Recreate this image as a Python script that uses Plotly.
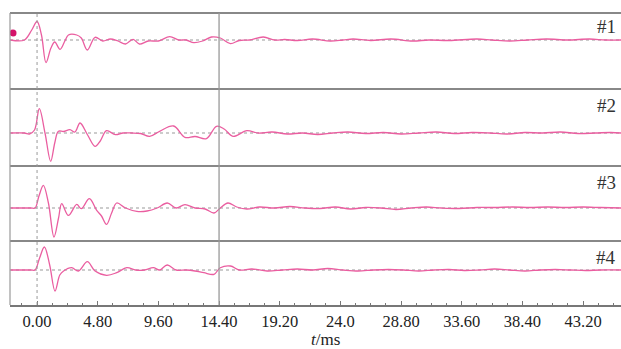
import plotly.graph_objects as go

# ---------------- data ----------------
tick_vals = [0.0, 4.8, 9.6, 14.4, 19.2, 24.0, 28.8, 33.6, 38.4, 43.2]
tick_text = ["0.00", "4.80", "9.60", "14.40", "19.20", "24.0", "28.80", "33.60", "38.40", "43.20"]

t1 = [-2.1, -1.0, -0.42, 0.0, 0.35, 0.71, 1.1, 1.4, 1.82, 2.2, 2.48, 3.14, 3.5, 3.98, 4.59,
      5.2, 5.8, 6.4, 7.0, 7.6, 8.1, 8.8, 9.6, 10.5, 11.2, 11.8, 12.4, 13.1, 13.8, 14.5, 15.3,
      16.0, 16.8, 17.9, 18.8, 19.6, 20.6, 21.8, 23.2, 24.2, 25.0, 26.4, 28.0, 29.7, 31.0,
      32.6, 34.8, 36.0, 37.4, 38.8, 40.3, 42.0, 43.7, 45.0, 46.2]
a1 = [0, 0, 10, 18.5, 5, -22.7, -8, -2, -9.3, -1, 5, 5, 2, -10, 2.7,
      -1, 1, -1, -4, 0.7, -4, -1, -1, 3.3, 0, 0, -2.7, -1, 3, 2, -3.6,
      -0.5, 0, 3, 0, 0.5, -0.5, 1, -1, 0, 1, -0.5, 1, -1, 0,
      -0.5, 1, 0, -1, 0, 1, 0, 1, 0, 0]

t2 = [-2.1, -1.0, -0.6, -0.2, 0.18, 0.63, 1.08, 1.4, 1.69, 2.1, 2.6, 3.0, 3.4, 4.0, 4.59,
      5.0, 5.5, 6.2, 6.8, 7.5, 8.2, 8.9, 9.7, 10.8, 11.7, 12.5, 13.4, 14.2, 14.8, 15.5,
      16.6, 17.5, 18.6, 19.8, 21.0, 22.2, 23.4, 24.6, 26.0, 27.4, 28.8, 30.2, 31.6, 33.0,
      34.4, 35.8, 37.2, 38.6, 40.0, 41.4, 42.8, 44.2, 45.4, 46.2]
a2 = [0, 0, -1, 3, 24.3, 0, -28.3, -10, 1.7, 1.5, 3.3, 1, 10, -2, -13.3,
      -8, 2.3, -1.7, 0, 0, -0.5, -3.3, 1.7, 7, -4.3, -3.5, -5.7, 6.7, 4, -3.3,
      2.3, 0, 1, -1, 0, -1.5, 0, 1, -0.5, 0.5, -1, 0, 1, -0.5,
      0.5, 0, -1, 0.5, 0, 1, -0.5, 0, 0.5, 0]

t3 = [-2.1, -0.5, -0.16, 0.15, 0.5, 0.9, 1.34, 1.7, 1.95, 2.48, 3.14, 3.5, 4.14, 4.72, 5.1,
      5.5, 5.9, 6.3, 7.0, 7.9, 8.7, 9.5, 10.3, 11.0, 11.7, 12.5, 13.3, 14.0, 14.5, 15.1,
      15.8, 16.6, 17.6, 18.8, 20.0, 21.2, 22.4, 23.6, 24.8, 26.0, 27.2, 28.4, 29.6, 30.8,
      32.0, 33.4, 34.8, 36.2, 37.6, 39.0, 40.4, 41.8, 43.2, 44.6, 46.2]
a3 = [0, 0, 0, 12, 22.6, 5, -29, -10, 4.3, -7.4, 3.6, -0.7, 9.3, -2.4, -8,
      -16.4, -5, 5, 0, -3.4, -3, 0, 5, 0, 3.3, 0, -1, -5, 0, 5,
      1, -1, 1, 0, 1.5, 0, -0.5, 1, -1, 0.5, 0, -1.5, 0, 1,
      0, -0.5, 0.5, 0.5, 1, 0.5, 1, 0.5, 1, 0.5, 0]

t4 = [-2.1, -0.5, -0.16, 0.2, 0.58, 1.0, 1.42, 1.8, 2.1, 2.74, 3.27, 3.98, 4.59, 5.5, 6.3,
      7.1, 7.8, 8.5, 9.2, 9.7, 10.3, 11.0, 11.8, 12.5, 13.2, 14.0, 14.5, 15.3, 16.0,
      17.0, 18.2, 19.4, 20.6, 21.8, 23.0, 24.2, 25.4, 26.6, 27.8, 29.0, 30.2, 31.4, 32.6,
      33.8, 35.0, 36.2, 37.4, 38.6, 39.8, 41.0, 42.2, 43.4, 44.6, 46.2]
a4 = [0, 0, 0, 12, 23, 5, -21, -5, -1, 2.3, -1, 8.3, -1, -5.3, -2.7,
      2.3, 0, 0, 2.3, 0, 5, 0, 0, -1, -2.7, -4.3, 2.3, 4, 0,
      1, -1, 0, 1, 0, 1.5, 0, -1, 0, 0.5, 0, -1, 0, 0.5,
      -0.5, 0, 1, 0, -1, 0, 0.5, 0, -0.5, 0, 0]

marker_t = [-1.9]
marker_a = [7]

labels = ["#1", "#2", "#3", "#4"]

# ---------------- figure ----------------
W, H = 621, 349
ml, mr, mt, mb = 10, 0, 13, 44
ph = H - mt - mb  # plot height in px

panel_px = [(13, 89), (89, 166), (166, 241), (241, 305)]
zero_px = [40, 133, 208, 270]

line_col = "#ea5ea0"
series = [(t1, a1), (t2, a2), (t3, a3), (t4, a4)]

fig = go.Figure()
layout_axes = {}
for i, ((tt, aa), (top, bot), z) in enumerate(zip(series, panel_px, zero_px)):
    yname = "y" if i == 0 else f"y{i+1}"
    fig.add_trace(go.Scatter(x=tt, y=aa, mode="lines", xaxis="x", yaxis=yname,
                             line=dict(color=line_col, width=1.3, shape="spline", smoothing=1.0),
                             hoverinfo="skip", showlegend=False))
    d0 = (H - mb - bot) / ph
    d1 = (H - mb - top) / ph
    key = "yaxis" if i == 0 else f"yaxis{i+1}"
    layout_axes[key] = dict(domain=[max(0, d0), min(1, d1)], anchor="x",
                            range=[-(bot - z), (z - top)], showticklabels=False,
                            showgrid=False, zeroline=False, ticks="", fixedrange=True)

fig.add_trace(go.Scatter(x=marker_t, y=marker_a, mode="markers", xaxis="x", yaxis="y",
                         marker=dict(color="#d4146a", size=7), showlegend=False, hoverinfo="skip"))

fig.update_layout(
    width=W, height=H, margin=dict(l=ml, r=mr, t=mt, b=mb),
    paper_bgcolor="white", plot_bgcolor="white",
    xaxis=dict(range=[-2.14, 46.2], anchor="y4", showgrid=False, zeroline=False,
               tickvals=tick_vals, ticktext=tick_text, ticks="inside", ticklen=4,
               tickcolor="#777", tickwidth=1,
               minor=dict(dtick=1.2, tick0=0, ticks="inside", ticklen=2, tickcolor="#777"),
               showline=True, linecolor="#777", linewidth=1.5,
               tickfont=dict(family="Liberation Serif", size=16.5, color="#222")),
    **layout_axes,
)

shapes = []
for yy in [13, 89, 166, 241]:
    p = (H - mb - yy) / ph
    shapes.append(dict(type="line", xref="paper", yref="paper", x0=0, x1=1, y0=p, y1=p,
                       line=dict(color="#888", width=1.8)))
shapes.append(dict(type="line", xref="paper", yref="paper", x0=0, x1=0, y0=0, y1=1,
                   line=dict(color="#999", width=1.2)))
shapes.append(dict(type="line", xref="x", yref="paper", x0=0, x1=0, y0=0, y1=1,
                   line=dict(color="#999", width=1, dash="dot")))
shapes.append(dict(type="line", xref="x", yref="paper", x0=14.4, x1=14.4, y0=0, y1=1,
                   line=dict(color="#999", width=1.3)))
for i in range(4):
    yname = "y" if i == 0 else f"y{i+1}"
    shapes.append(dict(type="line", xref="paper", yref=yname, x0=0, x1=1, y0=0, y1=0,
                       line=dict(color="#999", width=1, dash="dot"), layer="below"))
fig.update_layout(shapes=shapes)

ann = []
label_px = [27, 105, 182, 257]
for lab, yy in zip(labels, label_px):
    ann.append(dict(text=lab, xref="paper", yref="paper", x=1, xanchor="right", xshift=-3,
                    y=(H - mb - yy) / ph, yanchor="middle", showarrow=False,
                    font=dict(family="Liberation Serif", size=19, color="#333")))
ann.append(dict(text="<i>t</i>/ms", xref="paper", yref="paper", x=(325 - ml) / (W - ml - mr),
                xanchor="center", y=-34 / ph, yanchor="middle", showarrow=False,
                font=dict(family="Liberation Serif", size=17, color="#222")))
fig.update_layout(annotations=ann)

fig.write_html("out.html")
